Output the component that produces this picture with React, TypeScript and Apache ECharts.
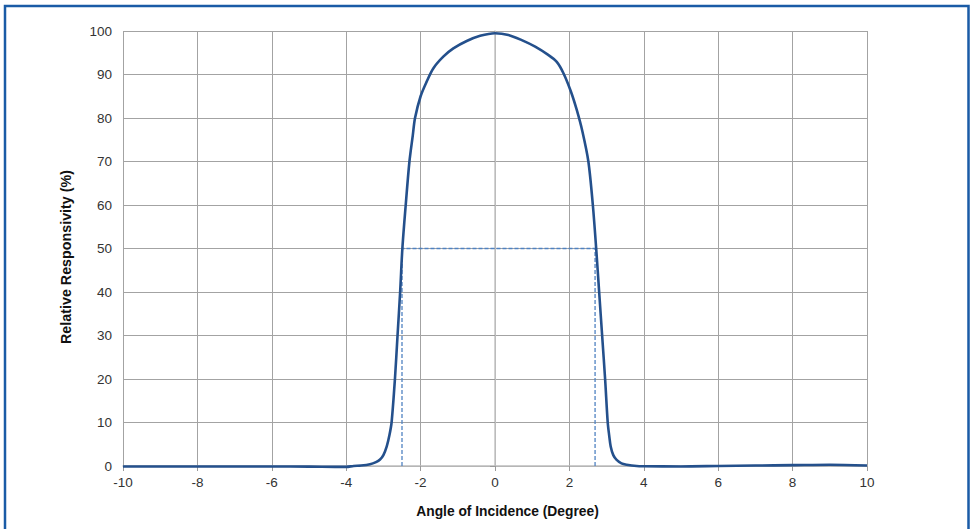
import React, { useEffect, useRef } from "react";
import * as echarts from "echarts";

const angles = [
  -10, -9, -8, -7, -6, -5, -4.3, -4, -3.8, -3.6, -3.36, -3.2, -3.09, -3.0, -2.91, -2.84, -2.78,
  -2.69, -2.62, -2.55, -2.49, -2.4, -2.3, -2.21, -2.15, -2.0, -1.84, -1.66, -1.39, -1.12, -0.76,
  -0.4, 0, 0.36, 0.72, 1.08, 1.43, 1.66, 1.84, 2.04, 2.2, 2.35, 2.51, 2.63, 2.72, 2.8, 2.88, 2.96,
  3.03, 3.07, 3.11, 3.18, 3.27, 3.4, 3.54, 3.81, 4, 5, 6, 7, 8, 9, 10,
];
const responsivity = [
  -0.1, -0.1, -0.1, -0.1, -0.1, -0.15, -0.2, -0.2, 0, 0.1, 0.4, 0.9, 1.5, 2.5, 4.5, 7, 10,
  20, 30, 40, 50, 60, 70, 76, 80, 85, 88.3, 91.4, 94.1, 96.0, 97.7,
  98.9, 99.5, 99.1, 97.9, 96.4, 94.5, 92.9, 90.3, 86.1, 81.8, 76.9, 70, 60, 50, 40, 30, 20,
  10, 7, 4.5, 2.5, 1.4, 0.6, 0.3, 0, -0.05, -0.1, 0, 0.1, 0.2, 0.3, 0.1,
];
const halfMaxX = [-2.5, -2.5, 2.69, 2.69];
const halfMaxY = [0, 50, 50, 0];

const xTitle = "Angle of Incidence (Degree)";
const yTitle = "Relative Responsivity (%)";

export default function App() {
  const ref = useRef<HTMLDivElement>(null);
  useEffect(() => {
    if (!ref.current) return;
    const chart = echarts.init(ref.current, null, { renderer: "svg" });
    const font = "Liberation Sans, Arial, sans-serif";
    const gridColor = "#a3a3a3";
    chart.setOption({
      animation: false,
      backgroundColor: "#ffffff",
      textStyle: { fontFamily: font },
      grid: { left: 123, right: 105, top: 31, bottom: 63, containLabel: false },
      graphic: [
        {
          type: "rect",
          shape: { x: 5, y: 6, width: 963.5, height: 700 },
          style: { fill: "none", stroke: "#1a5ba6", lineWidth: 2.5 },
          silent: true,
        },
      ],
      xAxis: {
        type: "value",
        min: -10,
        max: 10,
        interval: 2,
        name: xTitle,
        nameLocation: "middle",
        nameGap: 38,
        nameTextStyle: {
          fontFamily: font,
          fontSize: 13.8,
          fontWeight: "bold",
          color: "#111",
          padding: [0, 0, 0, 25],
        },
        axisLine: { show: true, lineStyle: { color: "#bdbdbd", width: 1.5 } },
        axisTick: { show: true, length: 5, lineStyle: { color: "#9a9a9a" } },
        axisLabel: { fontFamily: font, fontSize: 13.5, color: "#333", margin: 9 },
        splitLine: { show: true, lineStyle: { color: gridColor, width: 1 } },
      },
      yAxis: {
        type: "value",
        min: 0,
        max: 100,
        interval: 10,
        name: yTitle,
        nameLocation: "middle",
        nameGap: 50,
        nameRotate: 90,
        nameTextStyle: {
          fontFamily: font,
          fontSize: 14.3,
          fontWeight: "bold",
          color: "#111",
          padding: [0, 17, 0, 0],
        },
        axisLine: { show: true, lineStyle: { color: "#c4c4c4", width: 1.5 } },
        axisTick: { show: true, length: 5, lineStyle: { color: "#9a9a9a" } },
        axisLabel: { fontFamily: font, fontSize: 13.5, color: "#333", margin: 11 },
        splitLine: { show: true, lineStyle: { color: gridColor, width: 1 } },
      },
      series: [
        {
          type: "line",
          data: halfMaxX.map((x, i) => [x, halfMaxY[i]]),
          showSymbol: false,
          symbol: "none",
          lineStyle: { color: "#4f82c2", width: 1.3, type: [4, 2] },
          silent: true,
          z: 2,
        },
        {
          type: "line",
          data: angles.map((x, i) => [x, responsivity[i]]),
          showSymbol: false,
          symbol: "none",
          smooth: 0.3,
          clip: false,
          lineStyle: { color: "#24508c", width: 2.6 },
          silent: true,
          z: 3,
        },
      ],
    });
    return () => chart.dispose();
  }, []);
  return (
    <div
      ref={ref}
      style={{ position: "fixed", left: 0, top: 0, width: 972, height: 529, background: "#fff" }}
    />
  );
}
